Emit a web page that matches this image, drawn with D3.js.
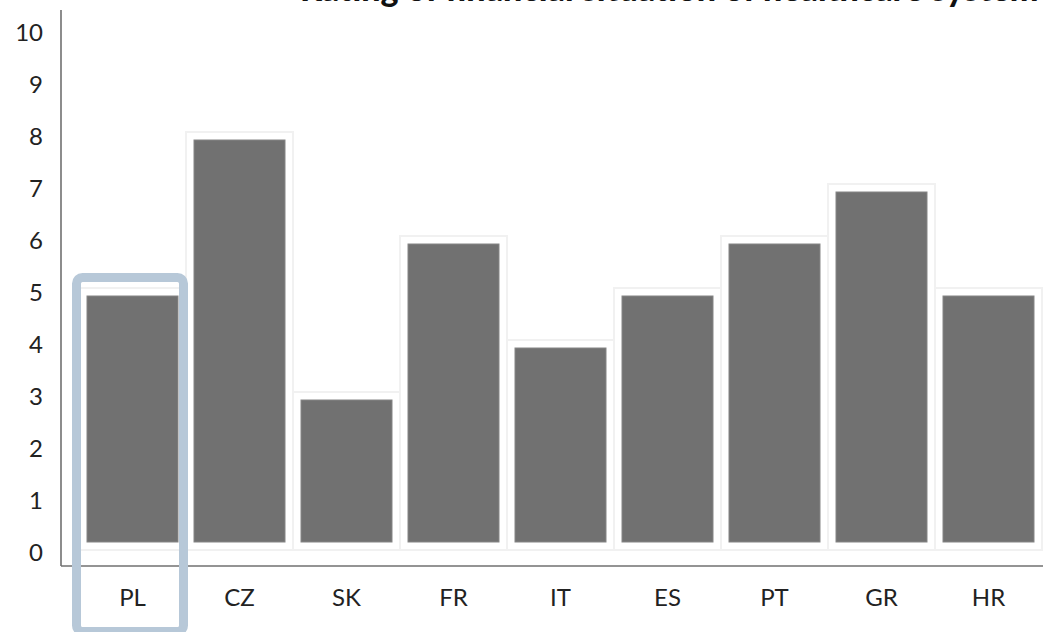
<!DOCTYPE html>
<html>
<head>
<meta charset="utf-8">
<script src="https://cdn.jsdelivr.net/npm/d3@7"></script>
<style>
  html, body { margin: 0; padding: 0; background: #fff; overflow: hidden; }
  svg { display: block; }
</style>
</head>
<body>
<svg id="chart" width="1043" height="632"></svg>
<script>
// data
const countries = ["PL", "CZ", "SK", "FR", "IT", "ES", "PT", "GR", "HR"];
const ratings = [5, 8, 3, 6, 4, 5, 6, 7, 5];
const yTicks = [0, 1, 2, 3, 4, 5, 6, 7, 8, 9, 10];
const titleText = "Rating of financial situation of healthcare system";
const highlighted = "PL";

const W = 1043, H = 632;
const svg = d3.select("#chart");

const x = d3.scaleBand().domain(countries).range([79, 1042]).padding(0);
const y = d3.scaleLinear().domain([0, 10]).range([553, 33]);

// title, mostly cut off at the top of the frame (as in the source)
svg.append("text")
  .attr("x", 300).attr("y", 1)
  .attr("text-anchor", "start")
  .style("font-family", "Lato, 'Open Sans', sans-serif")
  .style("font-weight", 900)
  .style("font-size", "34px")
  .attr("fill", "#111")
  .text(titleText);

// light cells behind each bar
svg.append("g").selectAll("rect")
  .data(countries)
  .join("rect")
  .attr("x", d => x(d))
  .attr("y", (d, i) => y(ratings[i]) - 5)
  .attr("width", x.bandwidth())
  .attr("height", (d, i) => y(0) - 3 - (y(ratings[i]) - 5))
  .attr("fill", "#fff")
  .attr("stroke", "#f1f1f1")
  .attr("stroke-width", 2);

// bars
svg.append("g").selectAll("rect")
  .data(countries)
  .join("rect")
  .attr("x", d => x(d) + 8)
  .attr("y", (d, i) => y(ratings[i]) + 3)
  .attr("width", x.bandwidth() - 16)
  .attr("height", (d, i) => (y(0) - 11) - (y(ratings[i]) + 3))
  .attr("fill", "#717171")
  .attr("stroke", "#868686")
  .attr("stroke-width", 1);

// axes lines
svg.append("line")
  .attr("x1", 61).attr("x2", 61).attr("y1", 10).attr("y2", 566)
  .attr("stroke", "#707070").attr("stroke-width", 1.6);
svg.append("line")
  .attr("x1", 61).attr("x2", W).attr("y1", 566).attr("y2", 566)
  .attr("stroke", "#707070").attr("stroke-width", 1.6);

const yAxis = d3.axisLeft(y).tickValues(yTicks).tickSize(0).tickPadding(0).tickFormat(d3.format("d"));
const gy = svg.append("g").attr("transform", "translate(43,0)").call(yAxis);
gy.select(".domain").remove();
gy.selectAll("text")
  .style("font-family", "Lato, 'Open Sans', sans-serif")
  .style("font-weight", 400)
  .style("font-size", "24px")
  .attr("fill", "#222");

const xAxis = d3.axisBottom(x).tickSize(0).tickPadding(0);
const gx = svg.append("g").attr("transform", "translate(0,589)").call(xAxis);
gx.select(".domain").remove();
gx.selectAll("text")
  .style("font-family", "Lato, 'Open Sans', sans-serif")
  .style("font-weight", 400)
  .style("font-size", "24px")
  .attr("fill", "#222");

// highlight box around the chosen category
const hi = countries.indexOf(highlighted);
svg.append("rect")
  .attr("x", x(highlighted) - 2.5)
  .attr("y", y(ratings[hi]) - 15.5)
  .attr("width", x.bandwidth())
  .attr("height", H - 0.5 - (y(ratings[hi]) - 15.5))
  .attr("rx", 6)
  .attr("fill", "none")
  .attr("stroke", "#b7c8d8")
  .attr("stroke-width", 9);
</script>
</body>
</html>
